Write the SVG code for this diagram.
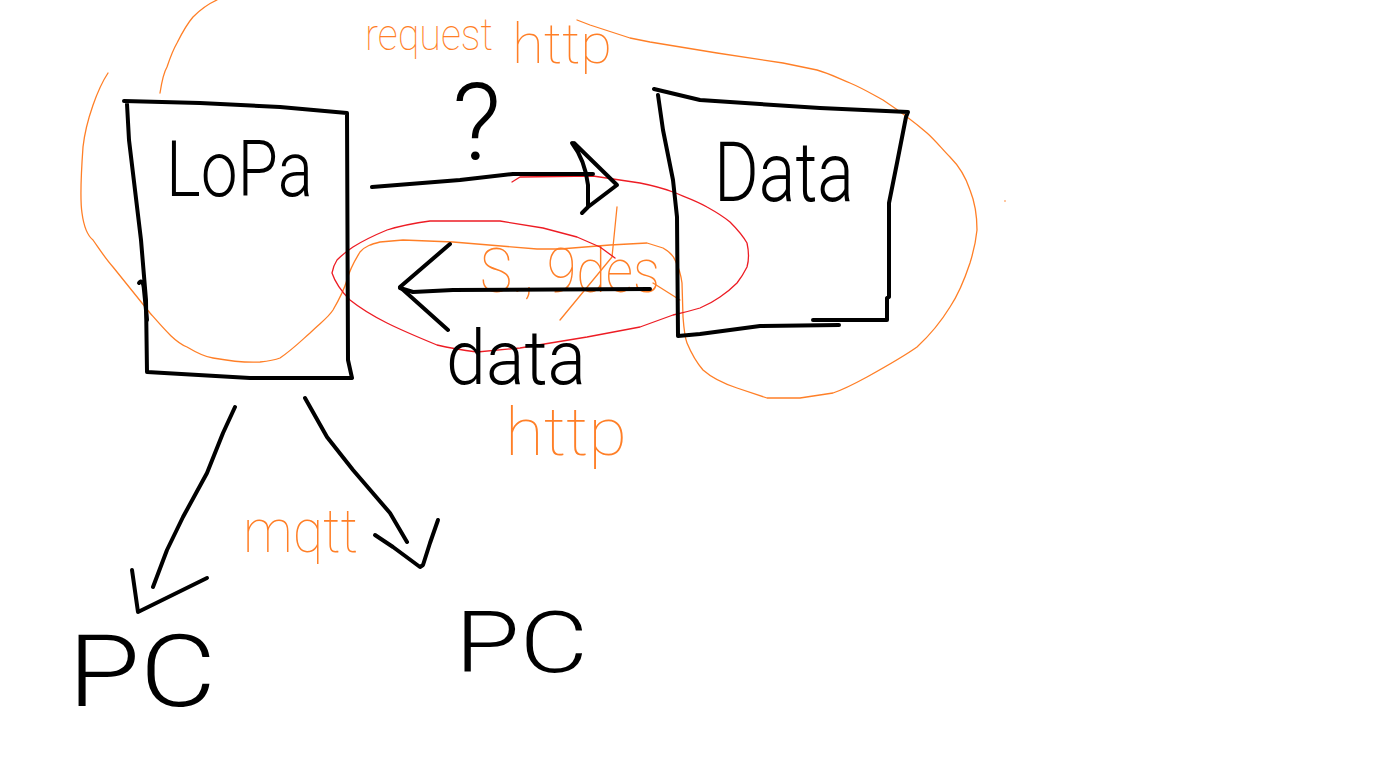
<svg xmlns="http://www.w3.org/2000/svg" width="1389" height="765" viewBox="0 0 1389 765">
<style>
.ink{fill:none;stroke:#000;stroke-width:4;stroke-linecap:round;stroke-linejoin:round}
.org{fill:none;stroke:#ff7f27;stroke-width:1.3;stroke-linecap:round;stroke-linejoin:round}
.red{fill:none;stroke:#ed1c24;stroke-width:1.3;stroke-linecap:round;stroke-linejoin:round}
.hand{font-family:Roboto,"Liberation Sans",sans-serif;font-weight:300;fill:#000}
.ohand{font-family:Roboto,"Liberation Sans",sans-serif;font-weight:100;fill:#ff7f27}
</style>
<rect width="1389" height="765" fill="#fff"/>

<g id="annotations-orange">
  <path class="org" d="M108,73 C98,88 86,120 83,147 C81,175 80,200 82,213 C84,228 88,236 93,240 C100,250 105,258 113,267 L150,313 C165,330 175,342 187,347 C197,353 205,357 213,358 C230,361 245,363 260,362 C270,361 275,360 280,358 C292,350 302,340 310,333 C320,323 328,318 333,310 C340,298 344,290 347,280 C350,268 354,262 360,252 C365,246 372,244 380,242 L403,240 L453,242 L537,249 L560,249 L610,245 L647,243 L663,248 C670,252 673,255 675,260 C679,268 681,275 682,283 L683,317 C684,330 685,338 687,343 C692,355 697,363 703,370 C712,378 725,384 737,388 L767,398 L800,398 L833,393 C845,389 856,383 867,377 C885,367 903,357 917,347 C930,335 942,320 950,307 C958,295 965,278 970,263 C974,250 976,240 977,230 C977,215 974,200 970,190 C965,175 958,165 950,157 C943,150 935,140 927,133 C912,120 898,110 883,100 C872,94 862,88 850,83 C838,78 828,73 817,70 L783,63 L717,53 L650,42 L630,38 L590,25 L577,20"/>
  <path class="org" d="M160,93 C162,80 164,72 167,67 C170,58 173,50 177,43 C182,33 187,24 193,17 C200,10 208,4 217,0"/>
  <path class="org" d="M617,207 L612,257 L560,320"/>
  <path class="org" d="M653,283 L680,300"/>
  <circle cx="1005" cy="201" r="0.8" fill="#ff7f27"/>
  <text class="ohand" x="365" y="50" font-size="44" textLength="128" lengthAdjust="spacingAndGlyphs">request</text>
  <text class="ohand" x="512" y="63" font-size="55" textLength="100" lengthAdjust="spacingAndGlyphs">http</text>
  <text class="ohand" x="480" y="292" font-size="62" textLength="180" lengthAdjust="spacingAndGlyphs">S., 9des</text>
  <text class="ohand" x="505" y="455" font-size="66" textLength="122" lengthAdjust="spacingAndGlyphs">http</text>
  <text class="ohand" x="243" y="552" font-size="62" textLength="115" lengthAdjust="spacingAndGlyphs">mqtt</text>
</g>

<g id="annotation-red">
  <path class="red" d="M512,182 L520,177 L593,176 L640,183 C655,186 665,189 673,192 C685,197 697,201 707,207 C716,212 724,217 730,222 C737,229 743,236 747,243 C749,252 749,260 747,267 C744,273 741,278 737,283 C731,289 726,293 720,297 C713,302 707,305 700,308 C690,311 682,313 673,315 L640,327 L587,337 L520,348 L477,352 C462,350 450,348 437,345 C420,338 403,331 387,323 C373,316 360,308 350,300 C342,292 335,282 332,273 C333,268 335,263 337,260 C342,255 347,251 353,247 C364,240 375,235 387,230 C400,226 415,223 430,221 L500,221 L543,228 L577,237 L600,247 L615,258"/>
</g>

<g id="node-lopa">
  <path class="ink" d="M124,101 L200,103 L280,107 L347,113 L348,360 L352,378 L250,378 L147,372 L146,300 L141,240 L135,190 L129,140 L127,104"/>
  <path class="ink" d="M139,283 Q143,278 144,290 L147,320" stroke-width="5"/>
  <text class="hand" x="166" y="196" font-size="78" textLength="147" lengthAdjust="spacingAndGlyphs">LoPa</text>
</g>

<g id="node-data">
  <path class="ink" d="M654,89 L700,100 L760,104 L820,108 L908,112 L906,117 L897,163 L889,203 L889,297 L887,298 L887,320 L813,320"/>
  <path class="ink" d="M839,325 L760,326 L700,334 L678,336 L677,217 L673,180 L663,130 L658,95"/>
  <text class="hand" x="714" y="201" font-size="84" textLength="140" lengthAdjust="spacingAndGlyphs">Data</text>
</g>

<g id="node-pc-left">
  <text class="hand" x="68" y="706" font-size="100" textLength="148" lengthAdjust="spacingAndGlyphs">PC</text>
</g>

<g id="node-pc-right">
  <text class="hand" x="455" y="672" font-size="86" textLength="133" lengthAdjust="spacingAndGlyphs">PC</text>
</g>

<g id="connectors">
  <path class="ink" d="M372,187 L460,180 L513,174 L593,174"/>
  <path class="ink" d="M572,143 Q585,160 588,185 L588,206 M574,143 L617,185 L588,207 L582,213"/>
  <path class="ink" d="M650,289 L453,290 L413,292 L400,288"/>
  <path class="ink" d="M450,244 L400,287 L448,330"/>
  <path class="ink" d="M235,407 L223,433 L207,473 L183,517 L167,550 L153,587"/>
  <path class="ink" d="M132,570 L138,612 L207,578"/>
  <path class="ink" d="M305,398 L327,437 L353,470 L390,513 L407,542"/>
  <path class="ink" d="M375,535 L393,547 L420,567 L423,565 L430,543 L438,520"/>
</g>

<g id="question">
  <text class="hand" x="452" y="160" font-size="108">?</text>
</g>

<g id="label-data">
  <text class="hand" x="446" y="384" font-size="76" textLength="140" lengthAdjust="spacingAndGlyphs">data</text>
</g>
</svg>
